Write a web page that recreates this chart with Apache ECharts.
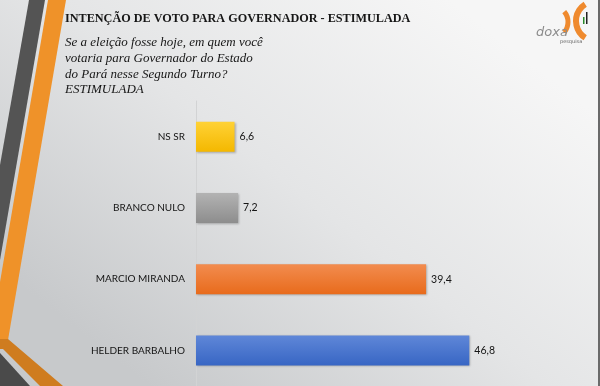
<!DOCTYPE html>
<html><head><meta charset="utf-8">
<script src="https://cdn.jsdelivr.net/npm/echarts@6/dist/echarts.min.js"></script>
<style>html,body{margin:0;padding:0;}#c{width:600px;height:386px;}</style>
</head><body><div id="c"></div>
<script>
var titleText = 'INTENÇÃO DE VOTO PARA GOVERNADOR - ESTIMULADA';
var subtitleLines = ['Se a eleição fosse hoje, em quem você','votaria para Governador do Estado','do Pará nesse Segundo Turno?','ESTIMULADA'];
var categories = ['HELDER BARBALHO','MARCIO MIRANDA','BRANCO NULO','NS SR'];
var values = [46.8, 39.4, 7.2, 6.6];
var labelsText = ['46,8','39,4','7,2','6,6'];
var barTop = ['#5f87d8','#f28c4f','#b3b3b3','#ffd236'];
var barBottom = ['#3866c4','#e86b1c','#8d8d8d','#f4b800'];

var G = echarts.graphic;
var chart = echarts.init(document.getElementById('c'), null, {renderer:'canvas'});
var data = values.map(function(v,i){
  return {value:v, itemStyle:{color:new G.LinearGradient(0,0,0,1,[{offset:0,color:barTop[i]},{offset:1,color:barBottom[i]}])}, label:{formatter:labelsText[i]}};
});
chart.setOption({
  backgroundColor: new G.LinearGradient(0.75,0,0.25,1,[{offset:0,color:'#f6f6f6'},{offset:0.5,color:'#e4e5e6'},{offset:1,color:'#c7c9cb'}]),
  animation:false,
  title:[
    {text:titleText,left:60,top:8,textStyle:{fontFamily:'Liberation Serif',fontWeight:'bold',fontSize:12.2,color:'#161616'}},
    {text:subtitleLines.join('\n'),left:60,top:30,textStyle:{fontFamily:'Liberation Serif',fontStyle:'italic',fontWeight:'normal',fontSize:13,lineHeight:15.7,color:'#161616'}}
  ],
  grid:{left:196,top:101,width:292,height:287,containLabel:false},
  xAxis:{type:'value',min:0,max:50,show:false,splitLine:{show:false}},
  yAxis:{type:'category',data:categories,axisTick:{show:false},
    axisLine:{show:true,lineStyle:{color:'#d2d3d4',width:1}},
    axisLabel:{margin:11,fontFamily:'Lato',fontSize:10,color:'#151515'}},
  series:[{type:'bar',data:data,barWidth:30,
    itemStyle:{shadowColor:'rgba(0,0,0,0.25)',shadowBlur:2,shadowOffsetX:1,shadowOffsetY:1},
    label:{show:true,position:'right',distance:5,fontFamily:'Lato',fontSize:10.5,color:'#151515'}}],
  graphic:[
    {type:'polygon',silent:true,shape:{points:[[29,0],[45,0],[0,260],[0,165]]},style:{fill:'#545454'}},
    {type:'polygon',silent:true,shape:{points:[[48,0],[66,0],[8,340],[0,340],[0,282]]},style:{fill:'#ef9229'}},
    {type:'polygon',silent:true,shape:{points:[[0,339],[8,339],[63,386],[40,386],[3,349],[0,349]]},style:{fill:'#cf7c1f'}},
    {type:'polygon',silent:true,shape:{points:[[0,353],[30,386],[0,386]]},style:{fill:'#4a4a4a'}},
    {type:'rect',silent:true,shape:{x:598,y:0,width:2,height:386},style:{fill:'#6a6a6a'}},
    {type:'arc',silent:true,shape:{cx:552,cy:22,r:16,startAngle:-0.7,endAngle:0.7},style:{stroke:'#ef8a2e',lineWidth:5,fill:null}},
    {type:'arc',silent:true,shape:{cx:596,cy:21,r:20,startAngle:Math.PI-1.0,endAngle:Math.PI+1.0},style:{stroke:'#ef8a2e',lineWidth:6,fill:null}},
    {type:'rect',silent:true,shape:{x:583,y:17,width:1.5,height:7},style:{fill:'#2a8a2a'}},
    {type:'rect',silent:true,shape:{x:586,y:12,width:1.5,height:12},style:{fill:'#222'}},
    {type:'text',silent:true,left:536,top:26,style:{text:'doxa',font:'italic 13px "DejaVu Sans"',fill:'#8c8c8c'}},
    {type:'text',silent:true,left:560,top:39,style:{text:'pesquisa',font:'5px "DejaVu Sans"',fill:'#666'}}
  ]
});
</script></body></html>
